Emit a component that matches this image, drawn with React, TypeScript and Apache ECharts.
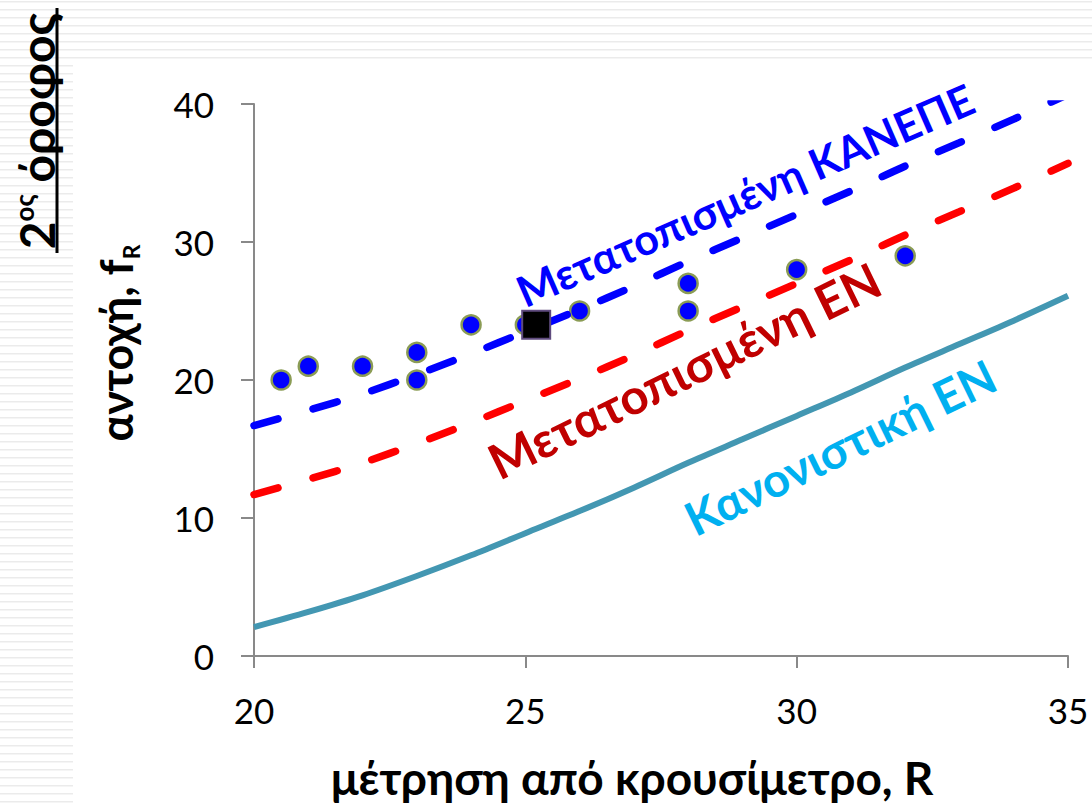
import { useEffect, useRef } from "react";
import * as echarts from "echarts";

// Axis ticks
const xTicks = [20, 25, 30, 35];
const yTicks = [0, 10, 20, 30, 40];

// Curves (R = rebound number, f = strength)
const curveR = [20, 21, 22, 23, 24, 25, 26, 27, 28, 29, 30, 31, 32, 33, 34, 35];
const kanonistikiEN = [2.1, 3.2, 4.4, 5.8, 7.3, 8.9, 10.5, 12.2, 14.0, 15.7, 17.4, 19.1, 20.9, 22.6, 24.3, 26.1];
const metatopismeniEN = [11.7, 12.8, 14.0, 15.4, 16.9, 18.5, 20.1, 21.8, 23.6, 25.3, 27.0, 28.7, 30.5, 32.2, 33.9, 35.7];
const metatopismeniKANEPE = [16.7, 17.8, 19.0, 20.4, 21.9, 23.5, 25.1, 26.8, 28.6, 30.3, 32.0, 33.7, 35.5, 37.2, 38.9, 40.7];

// Measurements
const measuredR = [20.5, 21, 22, 23, 23, 24, 25, 26, 28, 28, 30, 32];
const measuredF = [20, 21, 21, 22, 20, 24, 24, 25, 27, 25, 28, 29];
const meanR = [25.2];
const meanF = [24];

const FONT = "Lato, 'Noto Sans', sans-serif";

export default function App() {
  const ref = useRef<HTMLDivElement>(null);
  useEffect(() => {
    if (!ref.current) return;
    const chart = echarts.init(ref.current, null, { renderer: "svg" });

    const stripes: any[] = [];
    for (let y = 1; y < 803; y += 8) {
      stripes.push({
        type: "rect",
        z: -10,
        silent: true,
        shape: { x: 0, y, width: y < 62 ? 1092 : 73, height: 1.5 },
        style: { fill: "#ebebeb" },
      });
    }

    const deg = Math.PI / 180;
    const option: any = {
      animation: false,
      backgroundColor: "#ffffff",
      grid: { left: 254, right: 24, top: 104, bottom: 147, containLabel: false, outerBoundsMode: "none" },
      xAxis: {
        type: "value",
        min: xTicks[0],
        max: xTicks[xTicks.length - 1],
        interval: 5,
        axisLine: { show: true, onZero: false, lineStyle: { color: "#898989", width: 2 } },
        axisTick: { show: true, length: 12, lineStyle: { color: "#898989", width: 2 } },
        axisLabel: { color: "#000", fontSize: 35, fontFamily: FONT, margin: 36 },
        splitLine: { show: false },
      },
      yAxis: {
        type: "value",
        min: yTicks[0],
        max: yTicks[yTicks.length - 1],
        interval: 10,
        axisLine: { show: true, lineStyle: { color: "#898989", width: 2 } },
        axisTick: { show: true, length: 13, lineStyle: { color: "#898989", width: 2 } },
        axisLabel: { color: "#000", fontSize: 35, fontFamily: FONT, margin: 40 },
        splitLine: { show: false },
      },
      series: [
        {
          type: "scatter",
          data: measuredR.map((r, i) => [r, measuredF[i]]),
          symbol: "circle",
          symbolSize: 19,
          itemStyle: { color: "#0000ff", borderColor: "#8b9c55", borderWidth: 2.5, opacity: 1 },
          z: 2,
        },
        {
          type: "line",
          data: curveR.map((r, i) => [r, kanonistikiEN[i]]),
          showSymbol: false,
          smooth: 0.3,
          lineStyle: { color: "#4397b2", width: 6 },
          z: 3,
        },
        {
          type: "line",
          data: curveR.map((r, i) => [r, metatopismeniEN[i]]),
          showSymbol: false,
          smooth: 0.3,
          lineStyle: { color: "#ff0000", width: 7.5, type: [25, 36.5], cap: "round" },
          z: 3,
        },
        {
          type: "line",
          data: curveR.map((r, i) => [r, metatopismeniKANEPE[i]]),
          showSymbol: false,
          smooth: 0.3,
          clip: true,
          lineStyle: { color: "#0000ff", width: 7.5, type: [25, 36.5], cap: "round" },
          z: 3,
        },
        {
          type: "scatter",
          data: meanR.map((r, i) => [r, meanF[i]]),
          symbol: "rect",
          symbolSize: 28,
          itemStyle: { color: "#000000", borderColor: "#5f4b7e", borderWidth: 2, opacity: 1 },
          z: 4,
        },
      ],
      graphic: [
        ...stripes,
        {
          type: "rect",
          z: -9,
          silent: true,
          shape: { x: 73, y: 62, width: 1092 - 73, height: 803 - 62 },
          style: { fill: "#ffffff" },
        },
        {
          type: "text",
          x: 36,
          y: 131,
          rotation: 90 * deg,
          style: {
            text: "{a|2}{s|ος}{a| όροφος}",
            align: "center",
            verticalAlign: "middle",
            rich: {
              a: { fontSize: 48, fontWeight: "bold", fontFamily: FONT, fill: "#000" },
              s: { fontSize: 26, fontWeight: "bold", fontFamily: FONT, fill: "#000", padding: [0, 0, 24, 0] },
            },
          },
        },
        {
          type: "line",
          shape: { x1: 57, y1: 8, x2: 57, y2: 253 },
          style: { stroke: "#000", lineWidth: 3 },
        },
        {
          type: "text",
          x: 116,
          y: 343,
          rotation: 90 * deg,
          style: {
            text: "{a|αντοχή, f}{b|R}",
            align: "center",
            verticalAlign: "middle",
            rich: {
              a: { fontSize: 45, fontWeight: "bold", fontFamily: FONT, fill: "#000" },
              b: { fontSize: 23, fontWeight: "bold", fontFamily: FONT, fill: "#000", padding: [30, 0, 0, 0] },
            },
          },
        },
        {
          type: "text",
          x: 632,
          y: 777,
          style: {
            text: "μέτρηση από κρουσίμετρο, R",
            align: "center",
            verticalAlign: "middle",
            fontSize: 46,
            fontWeight: "bold",
            fontFamily: FONT,
            fill: "#000",
          },
        },
        {
          type: "text",
          x: 745,
          y: 195,
          rotation: 23.5 * deg,
          style: {
            text: "Μετατοπισμένη ΚΑΝΕΠΕ",
            align: "center",
            verticalAlign: "middle",
            fontSize: 43,
            fontWeight: "bold",
            fontFamily: FONT,
            fill: "#0000ff",
          },
        },
        {
          type: "text",
          x: 684,
          y: 370,
          rotation: 26 * deg,
          style: {
            text: "Μετατοπισμένη ΕΝ",
            align: "center",
            verticalAlign: "middle",
            fontSize: 49,
            fontWeight: "bold",
            fontFamily: FONT,
            fill: "#c00000",
          },
        },
        {
          type: "text",
          x: 840,
          y: 447,
          rotation: 26 * deg,
          style: {
            text: "Κανονιστική ΕΝ",
            align: "center",
            verticalAlign: "middle",
            fontSize: 47,
            fontWeight: "bold",
            fontFamily: FONT,
            fill: "#00b0f0",
          },
        },
      ],
    };
    chart.setOption(option);
    return () => chart.dispose();
  }, []);

  return (
    <div
      ref={ref}
      style={{ position: "absolute", left: 0, top: 0, width: 1092, height: 803, background: "#fff" }}
    />
  );
}
